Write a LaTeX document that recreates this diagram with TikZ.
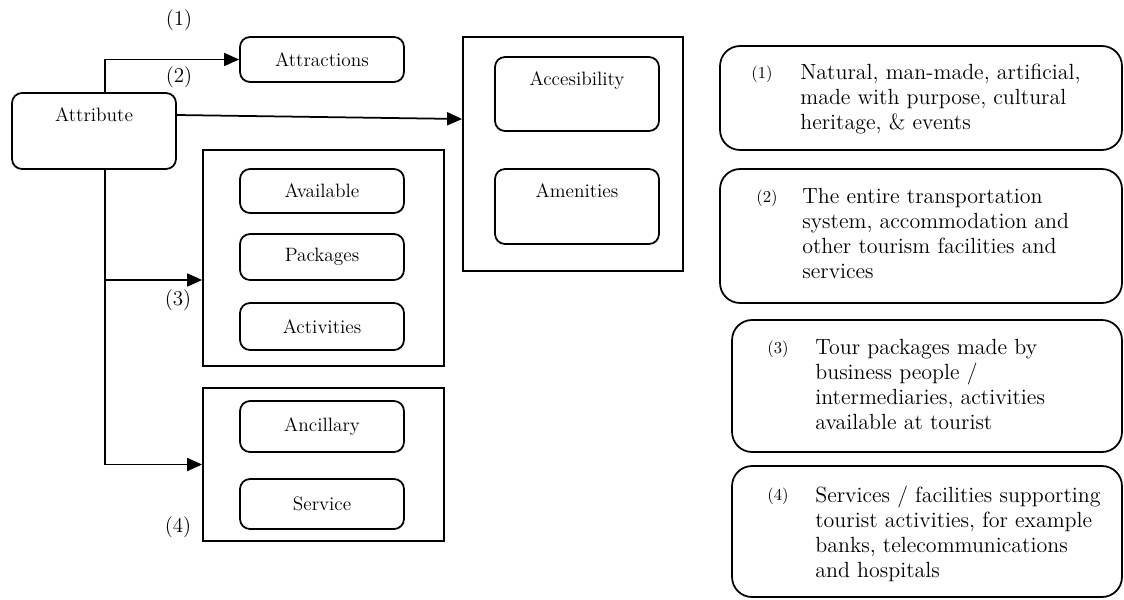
\documentclass[tikz,border=0pt]{standalone}
\usetikzlibrary{arrows.meta}
\usepackage{xcolor}

\begin{document}
\begin{tikzpicture}[x=0.02cm, y=-0.02cm,
        box/.style={draw=black, line width=1pt, rounded corners=0.2cm, minimum width=3.28cm, inner sep=0pt, font=\fontsize{11}{12}\selectfont},
        toptext/.style={anchor=north, yshift=-0.2cm, inner sep=3pt, font=\fontsize{11}{12}\selectfont},
        group/.style={draw=black, line width=1pt, inner sep=0pt},
        note/.style={draw=black, line width=1pt, rounded corners=0.4cm, inner sep=0pt},
        notetext/.style={anchor=north west, align=left, inner sep=0pt, font=\fontsize{12.5}{14.2}\selectfont},
        notenum/.style={font=\fontsize{9.5}{10}\selectfont},
        num/.style={font=\fontsize{12}{14}\selectfont},
        arr/.style={line width=1pt, -{Triangle[length=0.3cm, width=0.26cm]}}]
        \useasboundingbox (0,0) rectangle (1124,599);

        % left part
        \node[box, minimum height=1.52cm, label={[toptext]north:Attribute}] (attr) at (94,131) {};
        \node[box, minimum height=0.9cm] (attrac) at (322,59.5) {Attractions};

        \node[group, minimum width=4.4cm, minimum height=4.68cm] (access) at (573,154) {};
        \node[box, minimum height=1.48cm, label={[toptext]north:Accesibility}] (accbl) at (577,94) {};
        \node[box, minimum height=1.5cm, label={[toptext]north:Amenities}] (amen) at (577,206.5) {};

        \node[group, minimum width=4.82cm, minimum height=4.32cm] (pkg) at (323.5,258) {};
        \node[box, minimum height=0.88cm] (avail) at (322,191) {Available};
        \node[box, minimum height=0.92cm] (pack) at (322,257) {Packages};
        \node[box, minimum height=0.94cm] (activ) at (322,326.5) {Activities};

        \node[group, minimum width=4.82cm, minimum height=3.06cm] (anc) at (323.5,464.5) {};
        \node[box, minimum height=1.02cm] (ancil) at (322,426.5) {Ancillary};
        \node[box, minimum height=1.0cm] (serv) at (322,504) {Service};

        \node[num] (n1) at (179,20) {(1)};
        \node[num] (n2) at (179,77) {(2)};
        \node[num] (n3) at (178,300) {(3)};
        \node[num] (n4) at (178,527) {(4)};

        \draw[arr] ([xshift=0.22cm]attr.north) |- (attrac.west);
        \draw[arr] ([yshift=0.32cm]attr.east) -- ([yshift=0.7cm]access.west);
        \draw[arr] ([xshift=0.22cm]attr.south) |- ([yshift=-0.44cm]pkg.west);
        \draw[arr] ([xshift=0.22cm]attr.south) |- (anc.west);

        % notes on the right
        \node[note, minimum width=8.04cm, minimum height=2.08cm] (note1) at (921,98) {};
        \node[notenum] (k1) at (762,74) {(1)};
        \node[notetext] (t1) at (800,64) {Natural, man-made, artificial,\\made with purpose, cultural\\heritage, \& events};

        \node[note, minimum width=8.04cm, minimum height=2.68cm] (note2) at (921,236) {};
        \node[notenum] (k2) at (767,198) {(2)};
        \node[notetext] (t2) at (802,188) {The entire transportation\\system, accommodation and\\other tourism facilities and\\services};

        \node[note, minimum width=7.8cm, minimum height=2.64cm] (note3) at (927,386) {};
        \node[notenum] (k3) at (778,349) {(3)};
        \node[notetext] (t3) at (815,339) {Tour packages made by\\business people /\\intermediaries, activities\\available at tourist};

        \node[note, minimum width=7.8cm, minimum height=2.62cm] (note4) at (927,531.5) {};
        \node[notenum] (k4) at (778,496) {(4)};
        \node[notetext] (t4) at (815,486) {Services / facilities supporting\\tourist activities, for example\\banks, telecommunications\\and hospitals};

\end{tikzpicture}
\end{document}
